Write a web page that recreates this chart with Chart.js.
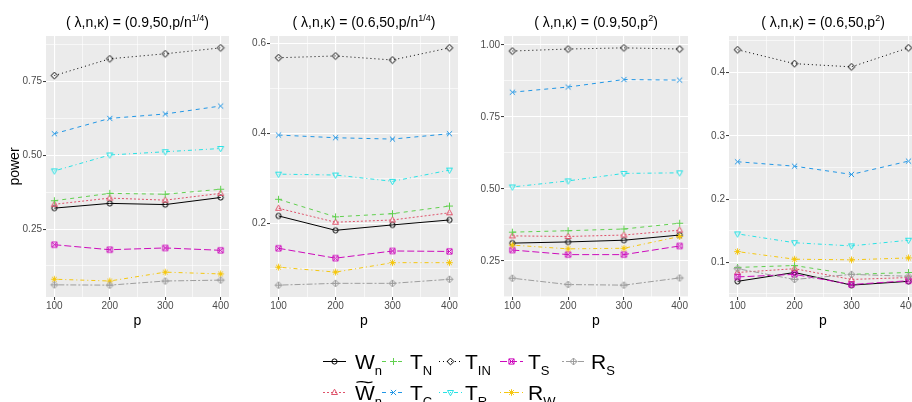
<!DOCTYPE html>
<html>
<head>
<meta charset="utf-8">
<script src="https://cdn.jsdelivr.net/npm/chart.js@4/dist/chart.umd.min.js"></script>
<style>
  html, body { margin: 0; padding: 0; background: #fff; }
  body {
    width: 912px; height: 402px; overflow: hidden; position: relative;
    font-family: "Liberation Sans", Arial, sans-serif;
  }
  canvas { position: absolute; }
  .title {
    position: absolute; top: 14px; font-size: 14px; line-height: 16px;
    white-space: nowrap; transform: translateX(-50%); color: #000;
  }
  .title sup { font-size: 9px; vertical-align: 6px; line-height: 0; }
  .lab {
    position: absolute; font-size: 21px; line-height: 21px; color: #000; white-space: nowrap;
  }
  .lab sub { font-size: 13px; position: relative; top: 6px; vertical-align: baseline; line-height: 0; }
  .wbox { position: relative; display: inline-block; }
  .tilde {
    position: absolute; left: 0; top: -9px; width: 19px; text-align: center;
    font-size: 18px; line-height: 18px; transform: scaleX(1.8);
  }
</style>
</head>
<body>
<script>
// power of each test, one row per panel, columns follow p = 100..400
const pValues = [100, 200, 300, 400];
const wnPower   = [[0.321, 0.337, 0.333, 0.357], [0.216, 0.184, 0.196, 0.207], [0.312, 0.316, 0.322, 0.340], [0.070, 0.084, 0.064, 0.070]];
const wtPower   = [[0.334, 0.355, 0.348, 0.371], [0.233, 0.202, 0.207, 0.223], [0.337, 0.335, 0.340, 0.357], [0.084, 0.090, 0.073, 0.076]];
const tnPower   = [[0.346, 0.371, 0.368, 0.385], [0.253, 0.214, 0.221, 0.238], [0.350, 0.355, 0.361, 0.381], [0.092, 0.095, 0.081, 0.084]];
const tcPower   = [[0.573, 0.625, 0.640, 0.667], [0.396, 0.390, 0.387, 0.399], [0.836, 0.854, 0.880, 0.878], [0.259, 0.252, 0.239, 0.260]];
const tinPower  = [[0.770, 0.827, 0.844, 0.864], [0.568, 0.572, 0.563, 0.590], [0.979, 0.986, 0.990, 0.986], [0.436, 0.414, 0.409, 0.439]];
const trPower   = [[0.447, 0.501, 0.512, 0.523], [0.309, 0.307, 0.293, 0.318], [0.507, 0.528, 0.554, 0.556], [0.145, 0.131, 0.126, 0.135]];
const tsPower   = [[0.197, 0.180, 0.186, 0.178], [0.144, 0.122, 0.138, 0.137], [0.288, 0.272, 0.272, 0.302], [0.077, 0.081, 0.065, 0.071]];
const rwPower   = [[0.080, 0.074, 0.104, 0.098], [0.102, 0.091, 0.112, 0.112], [0.305, 0.292, 0.294, 0.335], [0.117, 0.105, 0.104, 0.107]];
const rsPower   = [[0.061, 0.060, 0.074, 0.077], [0.062, 0.066, 0.066, 0.075], [0.190, 0.168, 0.166, 0.191], [0.090, 0.073, 0.081, 0.078]];

const seriesPower = [wnPower, wtPower, tnPower, tcPower, tinPower, trPower, tsPower, rwPower, rsPower];
const legendMain = ['W', 'W', 'T', 'T', 'T', 'T', 'T', 'R', 'R'];
const legendSub  = ['n', 'n', 'N', 'C', 'IN', 'R', 'S', 'W', 'S'];
const legendTilde = [false, true, false, false, false, false, false, false, false];

const xTicks = [100, 200, 300, 400];
const yTicks = [[0.25, 0.50, 0.75], [0.2, 0.4, 0.6], [0.25, 0.50, 0.75, 1.00], [0.1, 0.2, 0.3, 0.4]];
const yDigits = [2, 1, 2, 1];
const lambdas = ['0.9', '0.6', '0.9', '0.6'];
const kappaBase = ['p/n', 'p/n', 'p', 'p'];
const kappaPow = ['1/4', '1/4', '2', '2'];

// look of each series (R palette)
const colors = ['#000000', '#DF536B', '#61D04F', '#2297E6', '#000000', '#28E2E5', '#CD0BBC', '#F5C710', '#9E9E9E'];
const dashes = [[], [2, 2], [4, 4], [4, 4], [1, 3], [1, 3, 4, 3], [7, 3], [1, 3, 4, 3], [2, 2, 6, 2]];
const shapes = ['circle', 'triangle', 'plus', 'cross', 'diamond', 'triangleDown', 'squareCross', 'asterisk', 'diamondPlus'];

// panel boxes
const panelLeft = [46, 270, 504, 729];
const panelRight = [229, 458, 688, 917];
const panelTop = 36, panelBottom = 297;
const yAxisW = 46, xAxisH = 33, padTop = 8, padRight = 4;

Chart.defaults.font.family = '"Liberation Sans", Arial, sans-serif';

function makeShape(kind, color) {
  const c = document.createElement('canvas');
  c.width = 11; c.height = 11;
  const g = c.getContext('2d');
  g.strokeStyle = color;
  g.lineWidth = 1;
  const m = 5.5;
  const diamond = r => { g.moveTo(m, m - r); g.lineTo(m + r, m); g.lineTo(m, m + r); g.lineTo(m - r, m); g.closePath(); };
  const plus = r => { g.moveTo(m - r, m); g.lineTo(m + r, m); g.moveTo(m, m - r); g.lineTo(m, m + r); };
  const cross = r => { g.moveTo(m - r, m - r); g.lineTo(m + r, m + r); g.moveTo(m - r, m + r); g.lineTo(m + r, m - r); };
  g.beginPath();
  switch (kind) {
    case 'circle': g.arc(m, m, 2.6, 0, Math.PI * 2); break;
    case 'triangle': g.moveTo(m, m - 3.3); g.lineTo(m + 3, m + 2); g.lineTo(m - 3, m + 2); g.closePath(); break;
    case 'triangleDown': g.moveTo(m, m + 3.3); g.lineTo(m + 3, m - 2); g.lineTo(m - 3, m - 2); g.closePath(); break;
    case 'plus': plus(3.5); break;
    case 'cross': cross(2.6); break;
    case 'diamond': diamond(3.4); break;
    case 'squareCross': g.rect(m - 2.6, m - 2.6, 5.2, 5.2); cross(2.6); break;
    case 'asterisk': plus(3.3); cross(2.4); break;
    case 'diamondPlus': diamond(3.5); plus(3.5); break;
  }
  g.stroke();
  return c;
}
const shapeImgs = shapes.map((s, i) => makeShape(s, colors[i]));

const panelBackground = {
  id: 'panelBackground',
  beforeDraw(chart) {
    const { ctx, chartArea: a } = chart;
    ctx.save();
    ctx.fillStyle = '#EBEBEB';
    ctx.fillRect(a.left, a.top, a.right - a.left, a.bottom - a.top);
    ctx.restore();
  }
};

// major breaks plus the half-way minor breaks inside [lo, hi]
function withMinor(major, lo, hi) {
  const step = major[1] - major[0];
  const out = [];
  for (let n = -1; n <= 2 * major.length; n++) {
    const v = +(major[0] + n * step / 2).toFixed(6);
    if (v < lo || v > hi) continue;
    out.push({ value: v, minor: n % 2 !== 0 });
  }
  return out;
}

const gridLine = {
  color: '#FFFFFF',
  lineWidth: ctx => (ctx.tick && ctx.tick.minor ? 0.6 : 1.1),
  tickLength: 3,
  tickWidth: 1,
  tickColor: ctx => (ctx.tick && ctx.tick.minor ? 'rgba(0,0,0,0)' : '#333333')
};

const xMin = pValues[0] - 0.05 * (pValues[3] - pValues[0]);
const xMax = pValues[3] + 0.05 * (pValues[3] - pValues[0]);

for (let k = 0; k < 4; k++) {
  const vals = seriesPower.flatMap(s => s[k]);
  const lo = Math.min(...vals), hi = Math.max(...vals);
  const yMin = lo - 0.05 * (hi - lo), yMax = hi + 0.05 * (hi - lo);

  const canvas = document.createElement('canvas');
  const left = panelLeft[k] - yAxisW;
  canvas.width = panelRight[k] - left + padRight;
  canvas.height = padTop + (panelBottom - panelTop) + xAxisH;
  canvas.style.left = left + 'px';
  canvas.style.top = (panelTop - padTop) + 'px';
  document.body.appendChild(canvas);

  const title = document.createElement('div');
  title.className = 'title';
  title.style.left = ((panelLeft[k] + panelRight[k]) / 2) + 'px';
  title.innerHTML = '( λ,n,κ) = (' + lambdas[k] + ',50,' + kappaBase[k] + '<sup>' + kappaPow[k] + '</sup>)';
  document.body.appendChild(title);

  new Chart(canvas, {
    type: 'line',
    data: {
      datasets: seriesPower.map((s, i) => ({
        data: pValues.map((p, j) => ({ x: p, y: s[k][j] })),
        borderColor: colors[i],
        borderWidth: 1,
        borderDash: dashes[i],
        pointStyle: shapeImgs[i],
        pointRadius: 3,
        fill: false,
        tension: 0,
        order: seriesPower.length - i
      }))
    },
    options: {
      responsive: false,
      animation: false,
      events: [],
      layout: { padding: { top: padTop, right: padRight, left: 0, bottom: 0 }, autoPadding: false },
      plugins: { legend: { display: false }, tooltip: { enabled: false } },
      scales: {
        x: {
          type: 'linear', min: xMin, max: xMax, bounds: 'data',
          afterBuildTicks: s => { s.ticks = withMinor(xTicks, xMin, xMax); },
          afterFit: s => { s.height = xAxisH; s.paddingLeft = 0; s.paddingRight = 0; },
          ticks: {
            autoSkip: false, maxRotation: 0, padding: 1, color: '#4D4D4D',
            font: { size: 10, lineHeight: 1 },
            callback: (v, i, t) => (t[i].minor ? '' : String(v))
          },
          grid: gridLine,
          border: { display: false },
          title: { display: true, text: 'p', color: '#000', font: { size: 14 }, padding: 0 }
        },
        y: {
          type: 'linear', min: yMin, max: yMax, bounds: 'data',
          afterBuildTicks: s => { s.ticks = withMinor(yTicks[k], yMin, yMax); },
          afterFit: s => { s.width = yAxisW; s.paddingTop = 0; s.paddingBottom = 0; },
          ticks: {
            autoSkip: false, padding: 1, color: '#4D4D4D',
            font: { size: 10, lineHeight: 1 },
            callback: (v, i, t) => (t[i].minor ? '' : v.toFixed(yDigits[k]))
          },
          grid: gridLine,
          border: { display: false },
          title: { display: k === 0, text: 'power', color: '#000', font: { size: 14 }, padding: { top: 7, bottom: 0 } }
        }
      }
    },
    plugins: [panelBackground]
  });
}

// legend below the panels, filled column by column
const keyX = [323, 382, 439, 500, 562];
const labelX = [355, 410, 465, 528, 591];
const rowY = [361, 392];
seriesPower.forEach((s, i) => {
  const col = Math.floor(i / 2), row = i % 2;
  const key = document.createElement('canvas');
  key.width = 23; key.height = 11;
  key.style.left = keyX[col] + 'px';
  key.style.top = (rowY[row] - 5.5) + 'px';
  const g = key.getContext('2d');
  g.strokeStyle = colors[i];
  g.lineWidth = 1;
  g.setLineDash(dashes[i]);
  g.beginPath(); g.moveTo(0, 5.5); g.lineTo(23, 5.5); g.stroke();
  g.drawImage(shapeImgs[i], 6, 0);
  document.body.appendChild(key);

  const lab = document.createElement('div');
  lab.className = 'lab';
  lab.style.left = labelX[col] + 'px';
  lab.style.top = (rowY[row] - 10.5) + 'px';
  const main = legendTilde[i]
    ? '<span class="wbox">' + legendMain[i] + '<span class="tilde">~</span></span>'
    : legendMain[i];
  lab.innerHTML = main + '<sub>' + legendSub[i] + '</sub>';
  document.body.appendChild(lab);
});
</script>
</body>
</html>
